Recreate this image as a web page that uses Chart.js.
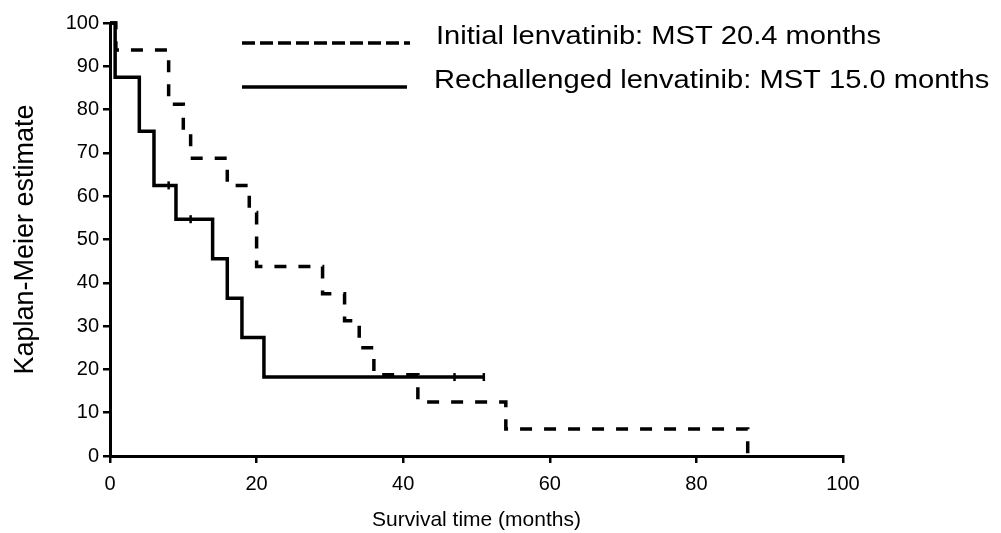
<!DOCTYPE html>
<html>
<head>
<meta charset="utf-8">
<script src="https://cdn.jsdelivr.net/npm/chart.js@4.4.1/dist/chart.umd.min.js"></script>
<style>
  body { margin: 0; background: #fff; }
  canvas { display: block; }
</style>
</head>
<body>
<canvas id="kmChart" width="1001" height="533"></canvas>
<script>
// Kaplan-Meier steps (months, % surviving after the event)
const initialMonths = [0, 0.8, 8, 10, 11, 16, 19, 20, 29, 32, 34, 36, 42, 54, 87];
const initialSurv   = [100, 93.75, 81.25, 75, 68.75, 62.5, 56.25, 43.75, 37.5, 31.25, 25, 18.75, 12.5, 6.25, 0];

const rechalMonths = [0, 0.7, 4, 6, 9, 14, 16, 18, 21, 51];
const rechalSurv   = [100, 87.5, 75, 62.5, 54.69, 45.57, 36.46, 27.34, 18.23, 18.23];

// censored observations (rechallenged group)
const censorMonths = [8, 11, 47, 51];
const censorSurv   = [62.5, 54.69, 18.23, 18.23];

const seriesLabels = [
    'Initial lenvatinib: MST 20.4 months',
    'Rechallenged lenvatinib: MST 15.0 months'
];

const xTicks = [0, 20, 40, 60, 80, 100];
const yTicks = [0, 10, 20, 30, 40, 50, 60, 70, 80, 90, 100];

function toPoints(xs, ys) {
    return xs.map((x, i) => ({ x: x, y: ys[i] }));
}

const FONT = '"Liberation Sans", Arial, Helvetica, sans-serif';

// legend drawn inside the plot, line sample on the left, text on the right
const legendInside = {
    id: 'legendInside',
    afterDraw(chart) {
        const ctx = chart.ctx;
        const rows = [
            { dash: [13, 5], y: 43, x0: 242, x1: 410, tx: 436 },
            { dash: [], y: 87, x0: 242, x1: 407, tx: 434 }
        ];
        ctx.save();
        rows.forEach((r, i) => {
            ctx.strokeStyle = '#000';
            ctx.lineWidth = 3.5;
            ctx.setLineDash(r.dash);
            ctx.beginPath();
            ctx.moveTo(r.x0, r.y);
            ctx.lineTo(r.x1, r.y);
            ctx.stroke();

            ctx.save();
            ctx.translate(r.tx, r.y + 1);
            ctx.scale(1.12, 1);
            ctx.fillStyle = '#000';
            ctx.font = '26px ' + FONT;
            ctx.textBaseline = 'alphabetic';
            ctx.fillText(chart.data.datasets[i].label, 0, 0);
            ctx.restore();
        });
        ctx.restore();
    }
};

const ctx = document.getElementById('kmChart').getContext('2d');
new Chart(ctx, {
    type: 'line',
    data: {
        datasets: [
            {
                label: seriesLabels[0],
                data: toPoints(initialMonths, initialSurv),
                stepped: true,
                borderColor: '#000',
                borderWidth: 3.5,
                borderDash: [12, 12],
                pointRadius: 0,
                fill: false,
                clip: 6
            },
            {
                label: seriesLabels[1],
                data: toPoints(rechalMonths, rechalSurv),
                stepped: true,
                borderColor: '#000',
                borderWidth: 3.5,
                pointRadius: 0,
                fill: false,
                clip: 6
            },
            {
                label: 'censored',
                data: toPoints(censorMonths, censorSurv),
                showLine: false,
                pointStyle: 'line',
                rotation: 90,
                pointRadius: 4,
                pointBorderWidth: 2.5,
                pointBorderColor: '#000',
                clip: 6
            }
        ]
    },
    options: {
        responsive: false,
        animation: false,
        layout: { padding: { left: 0, right: 158, top: 23, bottom: 0 } },
        plugins: {
            legend: { display: false },
            tooltip: { enabled: false }
        },
        scales: {
            x: {
                type: 'linear',
                min: 0,
                max: 100,
                afterBuildTicks: (scale) => { scale.ticks = xTicks.map(v => ({ value: v })); },
                afterFit: (scale) => { scale.height = 77; },
                border: { display: true, color: '#000', width: 3 },
                grid: { drawOnChartArea: false, drawTicks: true, tickLength: 7, color: '#000', lineWidth: 2.5 },
                ticks: { color: '#000', padding: 9, font: { family: FONT, size: 20 } },
                title: {
                    display: true,
                    text: 'Survival time (months)',
                    color: '#000',
                    font: { family: FONT, size: 21 },
                    padding: { top: 0, bottom: 0 }
                }
            },
            y: {
                min: 0,
                max: 100,
                afterBuildTicks: (scale) => { scale.ticks = yTicks.map(v => ({ value: v })); },
                afterFit: (scale) => { scale.width = 110; },
                border: { display: true, color: '#000', width: 3 },
                grid: { drawOnChartArea: false, drawTicks: true, tickLength: 7, color: '#000', lineWidth: 2.5 },
                ticks: { color: '#000', padding: 4, font: { family: FONT, size: 20 } },
                title: {
                    display: true,
                    text: 'Kaplan-Meier estimate',
                    color: '#000',
                    font: { family: FONT, size: 27 },
                    padding: { top: 9, bottom: 0 }
                }
            }
        }
    },
    plugins: [legendInside]
});
</script>
</body>
</html>
